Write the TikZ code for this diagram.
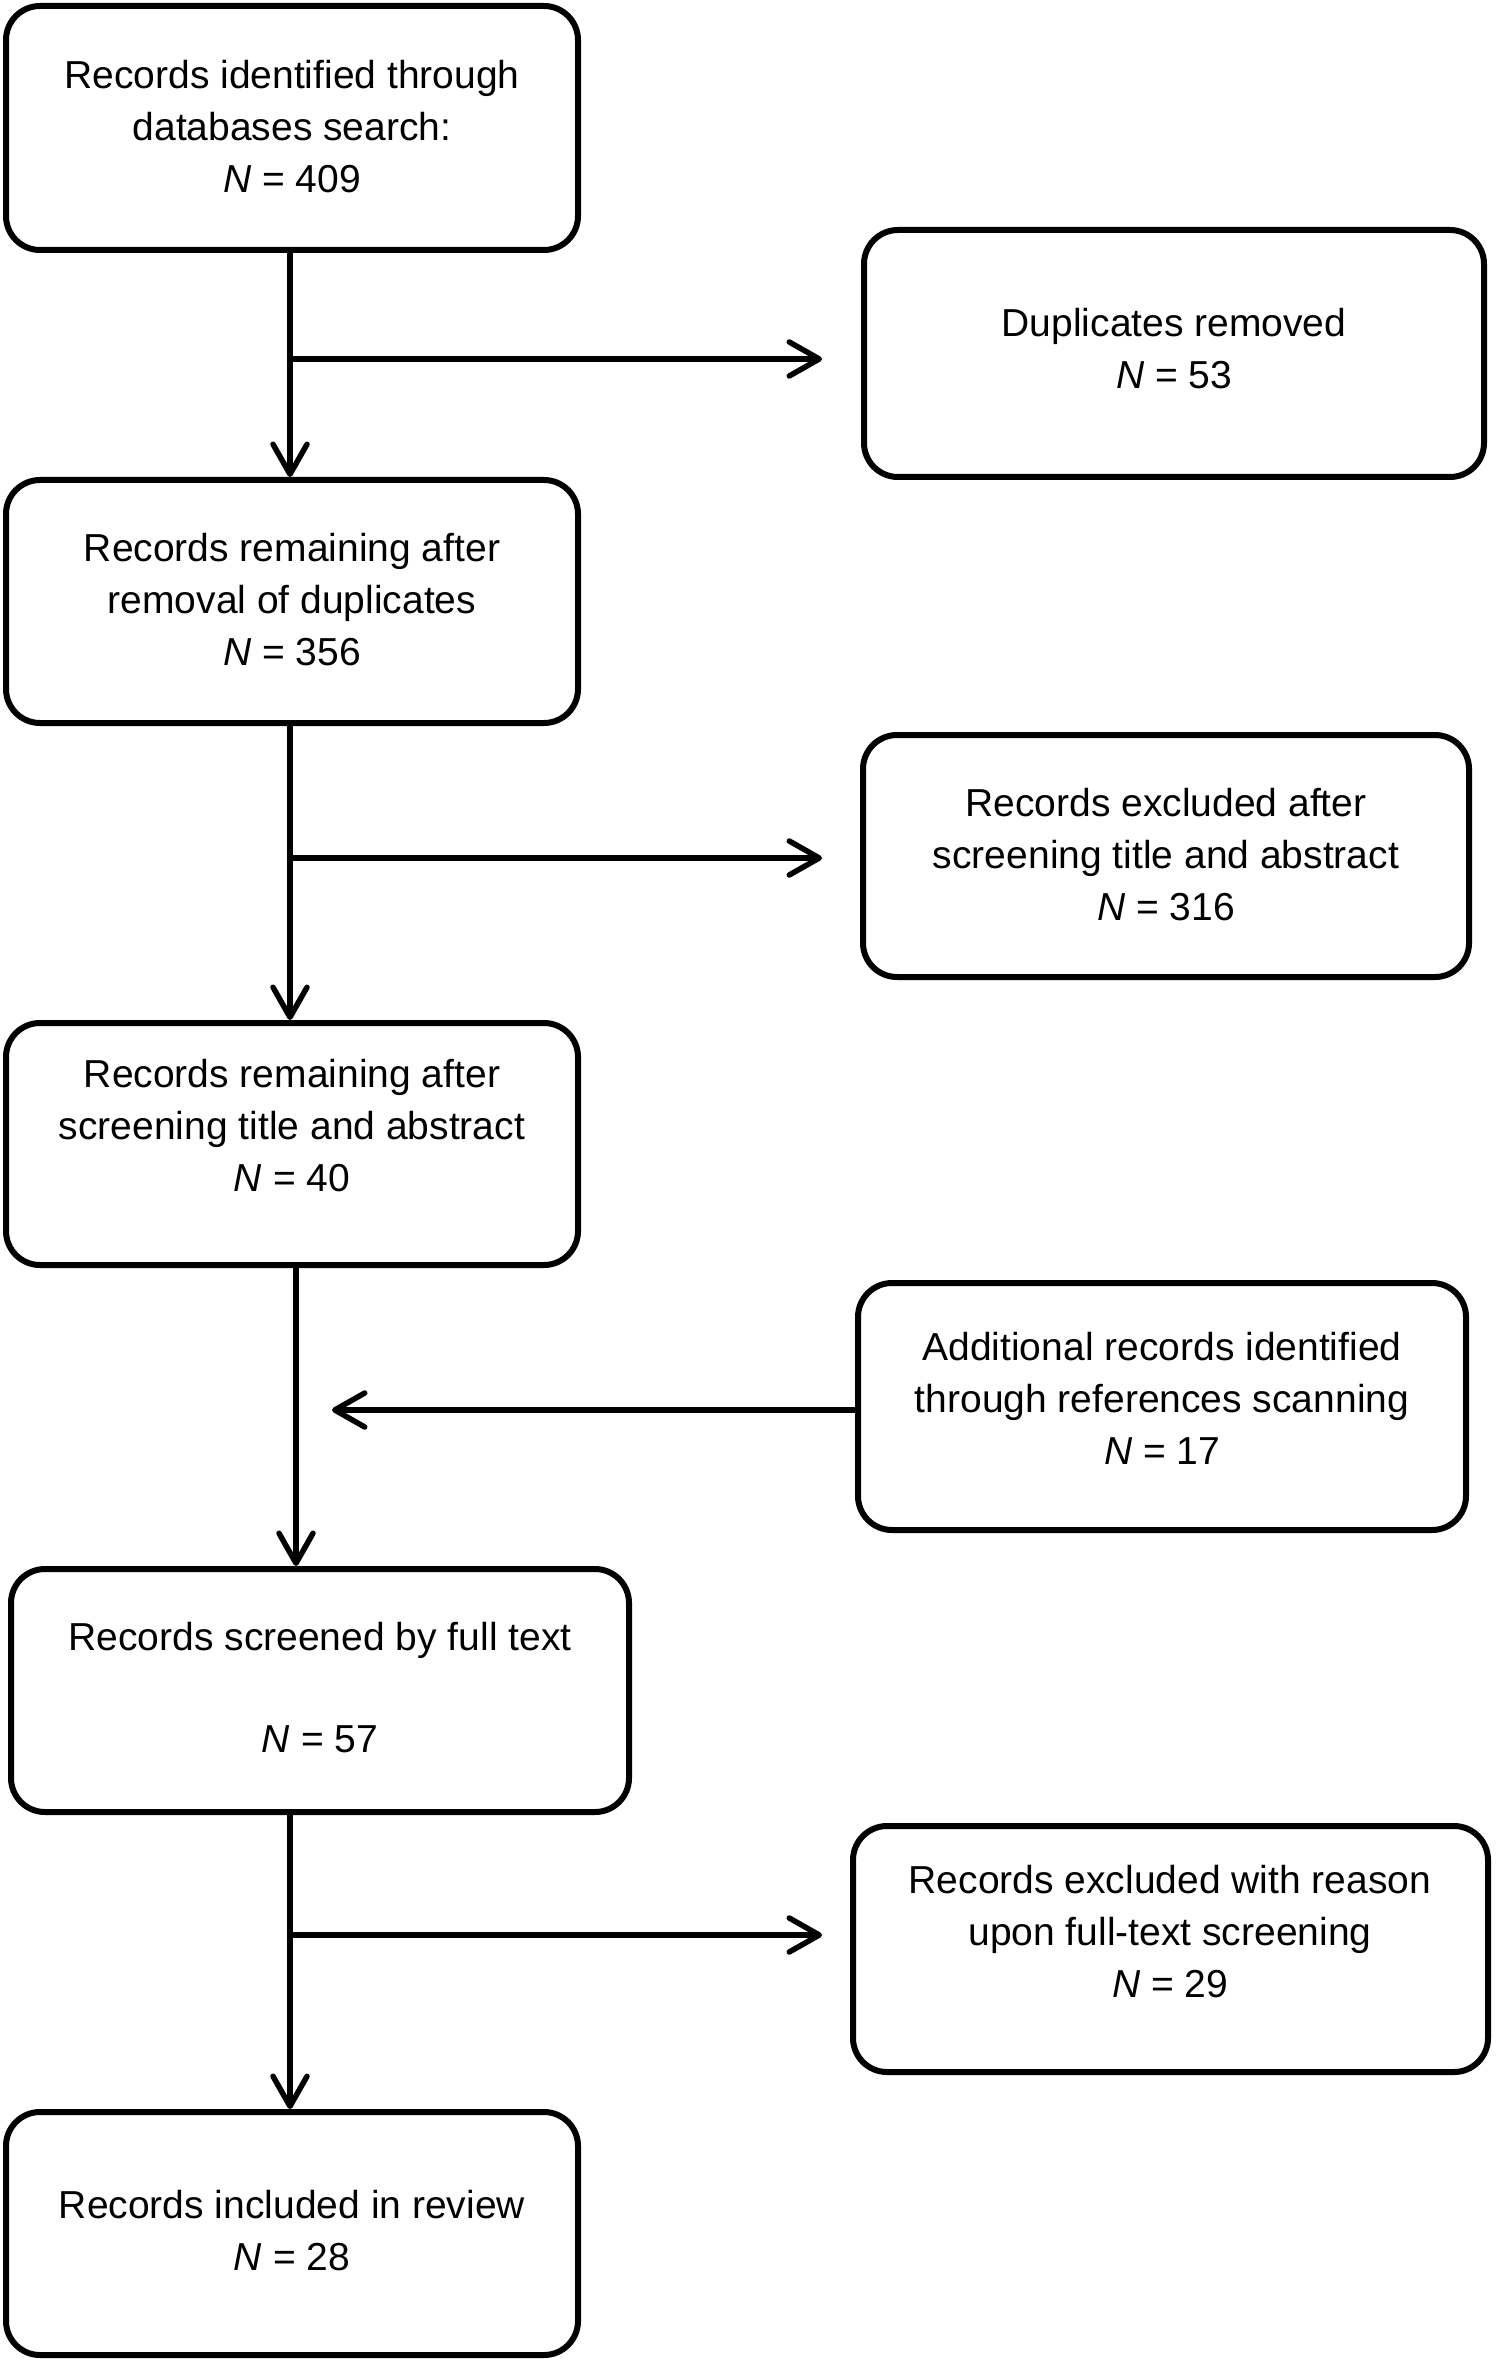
\documentclass[tikz,border=0pt]{standalone}
\usepackage{fontspec}
\setmainfont{Liberation Sans}
\usetikzlibrary{arrows.meta}
\begin{document}
\begin{tikzpicture}[x=0.5pt,y=-0.5pt,
 box/.style={draw, line width=3pt, rounded corners=17pt, inner sep=0pt, rectangle},
 lbl/.style={align=center, font=\fontsize{19.5pt}{26pt}\selectfont, inner sep=0pt, anchor=base},
 arr/.style={line width=2.75pt, -{Straight Barb[length=15pt,width=17pt,round]}},
 ln/.style={line width=2.75pt}]
\useasboundingbox (0,0) rectangle (1500,2364);
% boxes
\node[box, minimum width=286pt, minimum height=122pt] (b1) at (292,128) {};
\node[box, minimum width=310pt, minimum height=123.5pt] (dup) at (1174,353.5) {};
\node[box, minimum width=286pt, minimum height=121.5pt] (b3) at (292,601.5) {};
\node[box, minimum width=303pt, minimum height=121pt] (exc1) at (1166,856) {};
\node[box, minimum width=286pt, minimum height=121pt] (b5) at (292,1144) {};
\node[box, minimum width=304pt, minimum height=123.5pt] (add) at (1162,1406.5) {};
\node[box, minimum width=309pt, minimum height=121.5pt] (b7) at (320,1690.5) {};
\node[box, minimum width=317.5pt, minimum height=123pt] (exc2) at (1170.5,1949) {};
\node[box, minimum width=286pt, minimum height=121.5pt] (b9) at (292,2233.5) {};
% labels (anchor base = baseline of last line)
\node[lbl] (t1) at (292,193) {Records identified through\\databases search:\\\textit{N} = 409};
\node[lbl] (tdup) at (1174,389) {Duplicates removed\\\textit{N} = 53};
\node[lbl] (t3) at (292,665) {Records remaining after\\removal of duplicates\\\textit{N} = 356};
\node[lbl] (texc1) at (1166,920) {Records excluded after\\screening title and abstract\\\textit{N} = 316};
\node[lbl] (t5) at (292,1191) {Records remaining after\\screening title and abstract\\\textit{N} = 40};
\node[lbl] (tadd) at (1162,1464) {Additional records identified\\through references scanning\\\textit{N} = 17};
\node[lbl] (t7) at (320,1752) {Records screened by full text\\[25pt]\textit{N} = 57};
\node[lbl] (texc2) at (1170,1997) {Records excluded with reason\\upon full-text screening\\\textit{N} = 29};
\node[lbl] (t9) at (292,2270) {Records included in review\\\textit{N} = 28};
% connector coordinates
\coordinate (j1) at (290,359);
\coordinate (e1) at (822,359);
\coordinate (j2) at (290,858);
\coordinate (e2) at (822,858);
\coordinate (x3) at (296,0);
\coordinate (e3) at (332,1410);
\coordinate (x4) at (290,0);
\coordinate (j4) at (290,1935);
\coordinate (e4) at (822,1935);
% connectors
\draw[arr] (b1.south -| j1) -- (b3.north -| j1);
\draw[arr] (j1) -- (e1);
\draw[arr] (b3.south -| j2) -- (b5.north -| j2);
\draw[arr] (j2) -- (e2);
\draw[arr] (b5.south -| x3) -- (b7.north -| x3);
\draw[arr] (add.west |- e3) -- (e3);
\draw[arr] (b7.south -| x4) -- (b9.north -| x4);
\draw[arr] (j4) -- (e4);
\end{tikzpicture}
\end{document}
